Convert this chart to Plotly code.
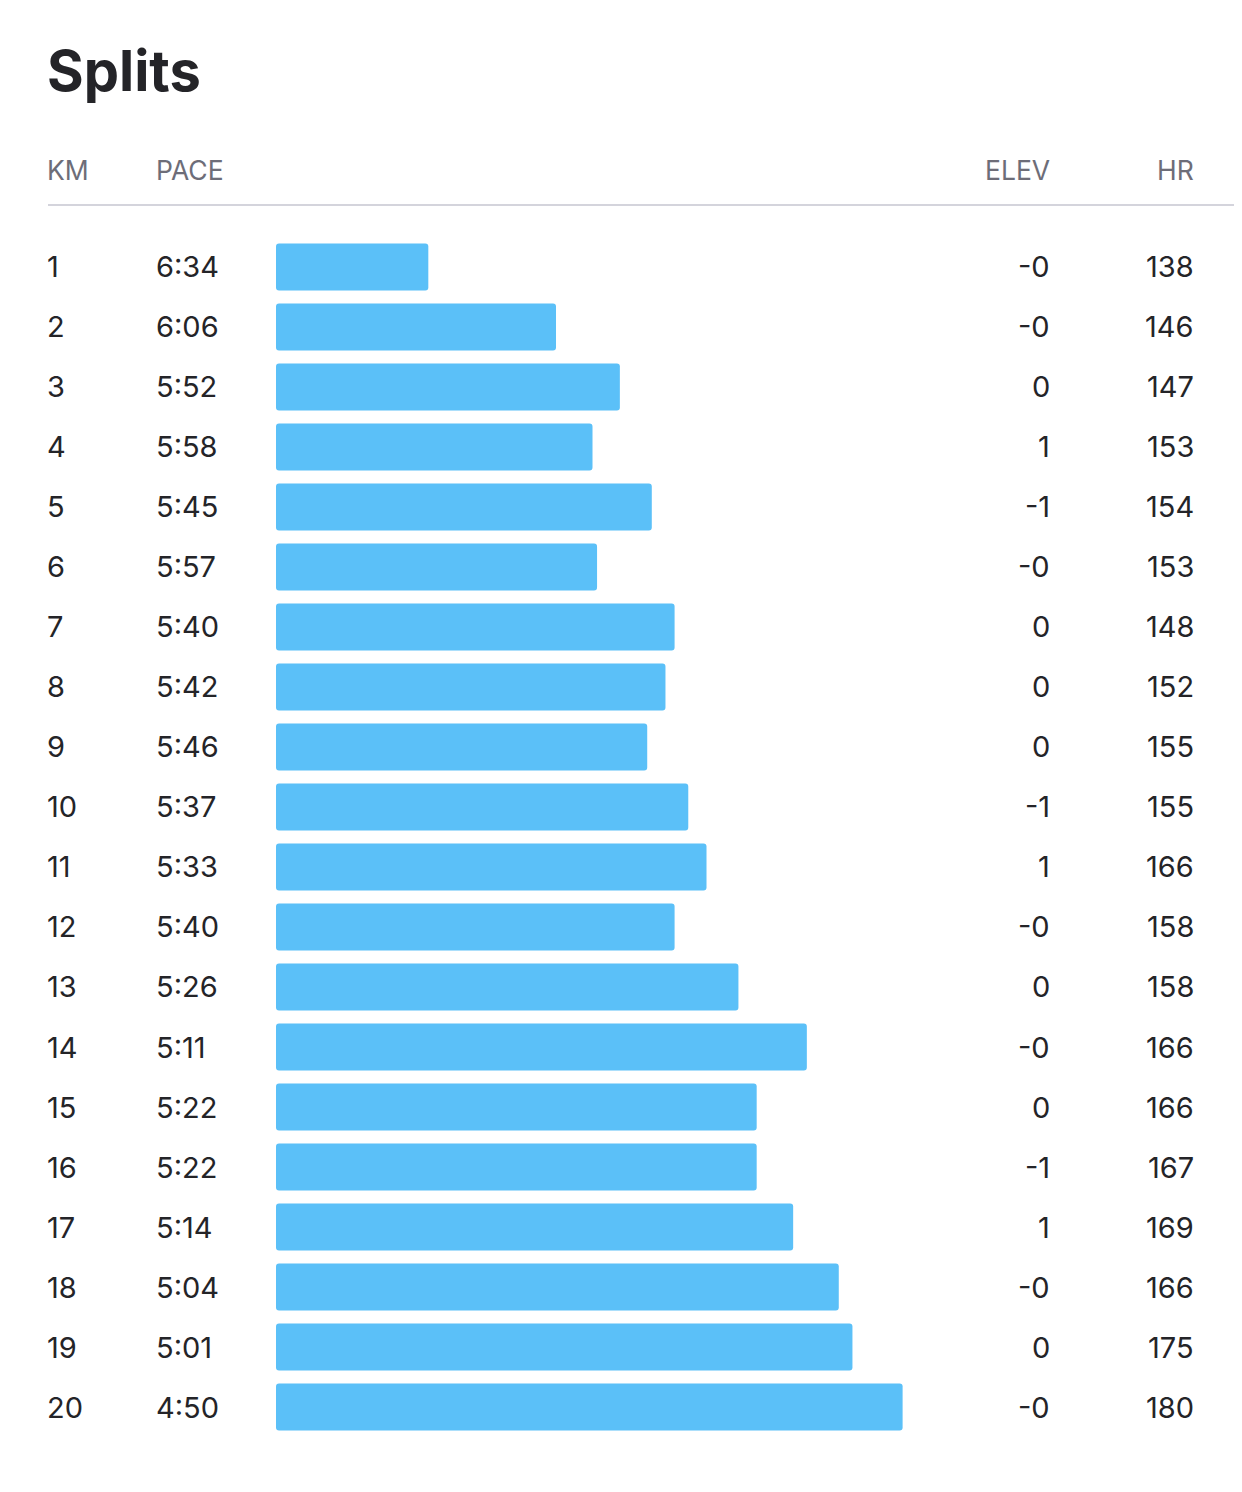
import plotly.graph_objects as go

# ---- data ----
km = list(range(1, 21))
pace = ["6:34", "6:06", "5:52", "5:58", "5:45", "5:57", "5:40", "5:42", "5:46", "5:37",
        "5:33", "5:40", "5:26", "5:11", "5:22", "5:22", "5:14", "5:04", "5:01", "4:50"]
elev = ["-0", "-0", "0", "1", "-1", "-0", "0", "0", "0", "-1",
        "1", "-0", "0", "-0", "0", "-1", "1", "-0", "0", "-0"]
hr = [138, 146, 147, 153, 154, 153, 148, 152, 155, 155,
      166, 158, 158, 166, 166, 167, 169, 166, 175, 180]
headers = ["KM", "PACE", "ELEV", "HR"]
title = "Splits"

pace_sec = [int(p.split(":")[0]) * 60 + int(p.split(":")[1]) for p in pace]

W, H = 1242, 1492
OFF = 8  # page body margin
FONT = "Inter, Roboto, sans-serif"
DARK = "#242428"
GREY = "#6d6d78"
BAR = "#5bc0f8"

# axis scale: slow pace at left of bar area (bar base), faster extends right
X_LEFT = 427.4
X_RIGHT = X_LEFT - (W + OFF - 276) / 4.5605

fig = go.Figure()
fig.add_trace(go.Bar(
    y=km,
    x=[p - X_LEFT for p in pace_sec],
    base=[X_LEFT] * len(km),
    orientation="h",
    marker=dict(color=BAR, line=dict(width=0)),
    width=0.78,
    hoverinfo="skip",
))

def px(x):
    return (x - OFF) / W

def py(y):
    return 1 - (y - OFF) / H

PAD = 3  # annotation inner padding compensation
ann = []
# title
ann.append(dict(text="<b>" + title + "</b>", x=px(45), y=py(71), xref="paper", yref="paper",
                xanchor="left", yanchor="middle", showarrow=False,
                font=dict(family=FONT, size=56, color=DARK)))
# headers
col_pos = [(48 - PAD, "left"), (157 - PAD, "left"), (1049 + PAD, "right"), (1193 + PAD, "right")]
for t, (x, a) in zip(headers, col_pos):
    ann.append(dict(text=t, x=px(x), y=py(170), xref="paper", yref="paper",
                    xanchor=a, yanchor="middle", showarrow=False,
                    font=dict(family=FONT, size=26.5, color=GREY)))
# rows
for k, p, e, h in zip(km, pace, elev, hr):
    for t, (x, a) in zip([str(k), p, e, str(h)], col_pos):
        ann.append(dict(text=t, x=px(x), y=k, xref="paper", yref="y",
                        xanchor=a, yanchor="middle", showarrow=False,
                        font=dict(family=FONT, size=29, color=DARK)))

fig.update_layout(
    width=W, height=H,
    margin=dict(l=0, r=0, t=0, b=0),
    paper_bgcolor="white", plot_bgcolor="white",
    showlegend=False,
    barcornerradius=3,
    annotations=ann,
    shapes=[dict(type="line", xref="paper", yref="paper", x0=px(48), x1=1,
                 y0=py(205), y1=py(205), line=dict(color="#d4d4dc", width=2))],
    xaxis=dict(domain=[px(276), 1], range=[X_LEFT, X_RIGHT], visible=False, fixedrange=True),
    yaxis=dict(domain=[py(1437), py(237)], range=[20.5, 0.5], visible=False, fixedrange=True),
)

fig.write_html("out.html")
